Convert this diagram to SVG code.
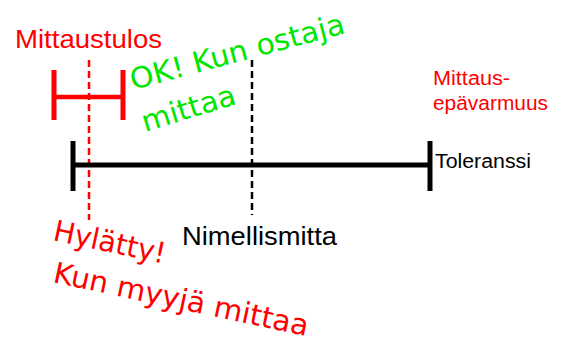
<svg xmlns="http://www.w3.org/2000/svg" width="561" height="338" viewBox="0 0 561 338">
  <style>
    .sans { font-family: "Liberation Sans", Arial, sans-serif; }
    .hand { font-family: "Comic Sans MS", "DejaVu Sans", sans-serif; font-size: 29px; }
    .red { fill: #ff0000; }
    .green { fill: #00e600; }
    .blk { fill: #000000; }
  </style>
  <rect width="561" height="338" fill="#ffffff"/>

  <g id="connectors" fill="none">
    <!-- dashed reference lines -->
    <line x1="89" y1="60" x2="89" y2="220" stroke="#ff0000" stroke-width="2.5" stroke-dasharray="7,4"/>
    <line x1="252" y1="60" x2="252" y2="215" stroke="#000000" stroke-width="2.5" stroke-dasharray="7,4"/>
  </g>

  <g id="tolerance">
    <line x1="73" y1="165" x2="430" y2="165" stroke="#000" stroke-width="5"/>
    <line x1="73" y1="141" x2="73" y2="191" stroke="#000" stroke-width="5"/>
    <line x1="430" y1="141" x2="430" y2="191" stroke="#000" stroke-width="5"/>
    <text class="sans blk" x="435" y="168" font-size="20" textLength="96" lengthAdjust="spacingAndGlyphs">Toleranssi</text>
  </g>

  <g id="measurement">
    <line x1="54" y1="97" x2="123" y2="97" stroke="#ff0000" stroke-width="4.5"/>
    <line x1="54" y1="70" x2="54" y2="120" stroke="#ff0000" stroke-width="5"/>
    <line x1="123" y1="70" x2="123" y2="120" stroke="#ff0000" stroke-width="5"/>
    <text class="sans red" x="15" y="48" font-size="26" textLength="147" lengthAdjust="spacingAndGlyphs">Mittaustulos</text>
  </g>

  <g id="uncertainty">
    <text class="sans red" x="433" y="85" font-size="20" textLength="77" lengthAdjust="spacingAndGlyphs">Mittaus-</text>
    <text class="sans red" x="433" y="110" font-size="20" textLength="115" lengthAdjust="spacingAndGlyphs">epävarmuus</text>
  </g>

  <g id="nominal">
    <text class="sans blk" x="182" y="245" font-size="26" textLength="155" lengthAdjust="spacingAndGlyphs">Nimellismitta</text>
  </g>

  <g id="buyer">
    <text class="hand green" transform="translate(133,90) rotate(-15)" textLength="221" lengthAdjust="spacingAndGlyphs">OK! Kun ostaja</text>
    <text class="hand green" transform="translate(145,132) rotate(-17)" textLength="97" lengthAdjust="spacingAndGlyphs">mittaa</text>
  </g>

  <g id="seller">
    <text class="hand red" transform="translate(52,240) rotate(12)" textLength="114" lengthAdjust="spacingAndGlyphs">Hylätty!</text>
    <text class="hand red" transform="translate(52,282) rotate(12)" textLength="260" lengthAdjust="spacingAndGlyphs">Kun myyjä mittaa</text>
  </g>
</svg>
